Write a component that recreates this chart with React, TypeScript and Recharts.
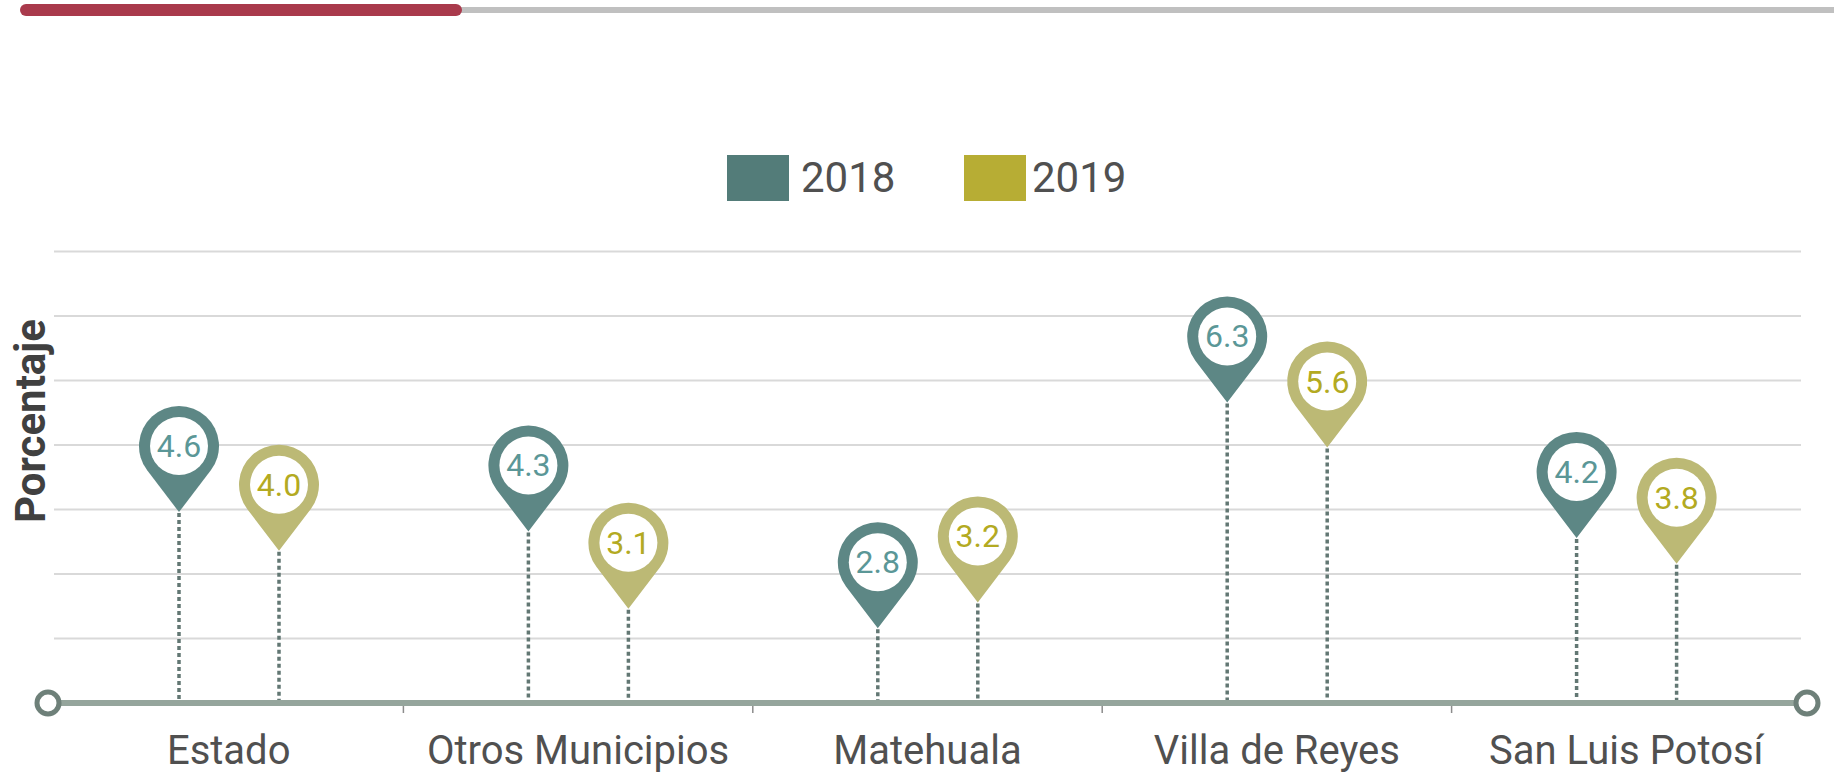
import React from 'react';
import { BarChart, Bar, XAxis, YAxis, CartesianGrid } from 'recharts';

const CATEGORIES = ['Estado', 'Otros Municipios', 'Matehuala', 'Villa de Reyes', 'San Luis Potosí'];
const SERIES_2018 = [4.6, 4.3, 2.8, 6.3, 4.2];
const SERIES_2019 = [4.0, 3.1, 3.2, 5.6, 3.8];
const SERIES_NAMES = ['2018', '2019'];
const Y_DOMAIN = [1.64, 8.64];
const GRID_TICKS = [2.64, 3.64, 4.64, 5.64, 6.64, 7.64, 8.64];
const Y_TITLE = 'Porcentaje';

const LEGEND_COLORS = ['#537c79', '#b7ad34'];
const PIN_COLORS = ['#5d8785', '#bcb975'];
const PIN_TEXT = ['#5b9797', '#b3aa22'];

const data = CATEGORIES.map((name, i) => ({
  name,
  y2018: SERIES_2018[i],
  y2019: SERIES_2019[i],
}));

const FONT = 'Roboto, "Open Sans", sans-serif';

const makePin = (fill: string, textColor: string, key: string) => (props: any) => {
  const { x, y, width, height, payload } = props;
  const cx = x + width / 2;
  const tipY = y;
  const R = 40;
  const d = 66;
  const r = 29;
  const cy = tipY - d;
  const theta = Math.acos(R / d);
  const px = R * Math.sin(theta);
  const py = R * Math.cos(theta);
  const path = `M ${cx} ${tipY} L ${cx - px} ${cy + py} A ${R} ${R} 0 1 1 ${cx + px} ${cy + py} Z`;
  return (
    <g>
      <line x1={cx} x2={cx} y1={tipY + 1} y2={y + height} stroke="#627773" strokeWidth={3.5} strokeDasharray="4 3" />
      <path d={path} fill={fill} />
      <circle cx={cx} cy={cy} r={r} fill="#ffffff" />
      <text x={cx} y={cy + 11} textAnchor="middle" fontSize={32} fontFamily={FONT} fill={textColor}>
        {Number(payload[key]).toFixed(1)}
      </text>
    </g>
  );
};

const CategoryTick = (props: any) => {
  const { x, y, payload, index } = props;
  const half = payload && typeof payload.offset === 'number' ? payload.offset : null;
  return (
    <g>
      {half != null && index > 0 ? (
        <line x1={x - half} x2={x - half} y1={y} y2={y + 10} stroke="#8c8c8c" strokeWidth={1.5} />
      ) : null}
      <text x={x} y={y + 61} textAnchor="middle" fontSize={40} fontFamily={FONT} fill="#505050">
        {payload.value}
      </text>
    </g>
  );
};

export default function App() {
  return (
    <div style={{ position: 'absolute', left: 0, top: 0, width: 1834, height: 774, background: '#ffffff', overflow: 'hidden' }}>
      {/* top progress bar */}
      <div style={{ position: 'absolute', left: 455, top: 7, width: 1379, height: 6, background: '#c0c0c0' }} />
      <div style={{ position: 'absolute', left: 20, top: 4, width: 442, height: 12, background: '#a93a4c', borderRadius: 6 }} />

      {/* legend */}
      {SERIES_NAMES.map((n, i) => (
        <div key={n} style={{ position: 'absolute', left: 727 + i * 237, top: 155, height: 46, display: 'flex', alignItems: 'center' }}>
          <div style={{ width: 62, height: 46, background: LEGEND_COLORS[i] }} />
          <span style={{ marginLeft: i === 0 ? 12 : 6, fontFamily: FONT, fontSize: 42, color: '#505050', lineHeight: '46px' }}>{n}</span>
        </div>
      ))}

      <div style={{ position: 'absolute', left: 0, top: 0 }}>
        <BarChart
          width={1834}
          height={774}
          data={data}
          margin={{ top: 251.5, right: 33, bottom: 0, left: 54 }}
          barSize={80}
          barGap={20}
        >
          <CartesianGrid vertical={false} stroke="#d9d9d9" strokeWidth={2} />
          <YAxis hide type="number" domain={Y_DOMAIN} ticks={GRID_TICKS} allowDataOverflow width={0} />
          <XAxis
            dataKey="name"
            axisLine={false}
            tickLine={false}
            tickSize={0}
            tickMargin={0}
            interval={0}
            height={71}
            tick={<CategoryTick />}
          />
          <Bar dataKey="y2018" name={SERIES_NAMES[0]} isAnimationActive={false} shape={makePin(PIN_COLORS[0], PIN_TEXT[0], 'y2018')} />
          <Bar dataKey="y2019" name={SERIES_NAMES[1]} isAnimationActive={false} shape={makePin(PIN_COLORS[1], PIN_TEXT[1], 'y2019')} />
        </BarChart>
      </div>

      {/* axis line with end circles and y title */}
      <svg width={1834} height={774} style={{ position: 'absolute', left: 0, top: 0, pointerEvents: 'none' }}>
        <line x1={48} x2={1807} y1={703} y2={703} stroke="#95a59c" strokeWidth={6} />
        <circle cx={48} cy={703} r={11} fill="#ffffff" stroke="#6e8079" strokeWidth={5} />
        <circle cx={1807} cy={703} r={11} fill="#ffffff" stroke="#6e8079" strokeWidth={5} />
        <text
          x={45}
          y={421}
          transform="rotate(-90 45 421)"
          textAnchor="middle"
          fontSize={42}
          fontWeight={700}
          fontFamily={FONT}
          fill="#404040"
        >
          {Y_TITLE}
        </text>
      </svg>
    </div>
  );
}
